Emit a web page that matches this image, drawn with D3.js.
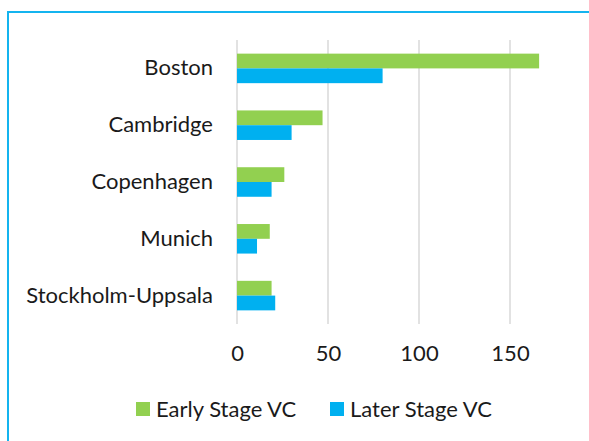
<!DOCTYPE html>
<html>
<head>
<meta charset="utf-8">
<script src="https://cdn.jsdelivr.net/npm/d3@7"></script>
<style>
  body { margin: 0; background: #fff; }
  text { font-family: Lato, "Open Sans", sans-serif; fill: #1a1a1a; }
</style>
</head>
<body>
<div id="chart"></div>
<script>
const cities = ["Boston", "Cambridge", "Copenhagen", "Munich", "Stockholm-Uppsala"];
const earlyStage = [166, 47, 26, 18, 19];
const laterStage = [80, 30, 19, 11, 21];
const seriesNames = ["Early Stage VC", "Later Stage VC"];
const ticks = [0, 50, 100, 150];

const width = 589, height = 441;
const color = d3.scaleOrdinal(seriesNames, ["#92d050", "#00b0f0"]);

const svg = d3.select("#chart")
    .append("svg")
    .attr("width", width)
    .attr("height", height);

// chart frame, runs off right and bottom edge like the screenshot
svg.append("rect")
    .attr("x", 8).attr("y", 12)
    .attr("width", 620).attr("height", 480)
    .attr("fill", "none")
    .attr("stroke", "#14b4ef")
    .attr("stroke-width", 2);

const x = d3.scaleLinear().domain([0, 150]).range([237, 510]);

const y = d3.scaleBand()
    .domain(cities)
    .range([40, 324])
    .paddingInner(0.48)
    .paddingOuter(0.24);

const ySub = d3.scaleBand()
    .domain(seriesNames)
    .range([0, y.bandwidth()]);

// gridlines
svg.append("g")
    .selectAll("line")
    .data(ticks)
    .join("line")
    .attr("x1", d => x(d)).attr("x2", d => x(d))
    .attr("y1", 40).attr("y2", 324)
    .attr("stroke", "#d9d9d9")
    .attr("stroke-width", 1.5);

// x axis labels
const xAxis = svg.append("g")
    .attr("transform", "translate(0,345)")
    .call(d3.axisBottom(x).tickValues(ticks).tickSize(0).tickPadding(0));
xAxis.select(".domain").remove();
xAxis.selectAll("text")
    .attr("dy", "0.71em")
    .style("font-size", "22px")
    .style("font-family", "Lato, sans-serif")
    .attr("fill", "#1a1a1a");

// y axis labels
const yAxis = svg.append("g")
    .attr("transform", "translate(237,0)")
    .call(d3.axisLeft(y).tickSize(0).tickPadding(24));
yAxis.select(".domain").remove();
yAxis.selectAll("text")
    .style("font-size", "22px")
    .style("font-family", "Lato, sans-serif")
    .attr("fill", "#1a1a1a");

const rows = cities.map((c, i) => ({ city: c, values: [earlyStage[i], laterStage[i]] }));

const group = svg.append("g")
    .selectAll("g")
    .data(rows)
    .join("g")
    .attr("transform", d => `translate(0,${y(d.city)})`);

group.selectAll("rect")
    .data(d => d.values.map((v, k) => ({ key: seriesNames[k], value: v })))
    .join("rect")
    .attr("x", x(0))
    .attr("y", d => ySub(d.key))
    .attr("width", d => x(d.value) - x(0))
    .attr("height", ySub.bandwidth())
    .attr("fill", d => color(d.key));

// legend
const legendX = [136, 330];
const legend = svg.append("g")
    .selectAll("g")
    .data(seriesNames)
    .join("g")
    .attr("transform", (d, i) => `translate(${legendX[i]},402)`);

legend.append("rect")
    .attr("width", 14).attr("height", 14)
    .attr("fill", d => color(d));

legend.append("text")
    .attr("x", 20).attr("y", 7)
    .attr("dy", "0.35em")
    .style("font-size", "22px")
    .text(d => d);
</script>
</body>
</html>
